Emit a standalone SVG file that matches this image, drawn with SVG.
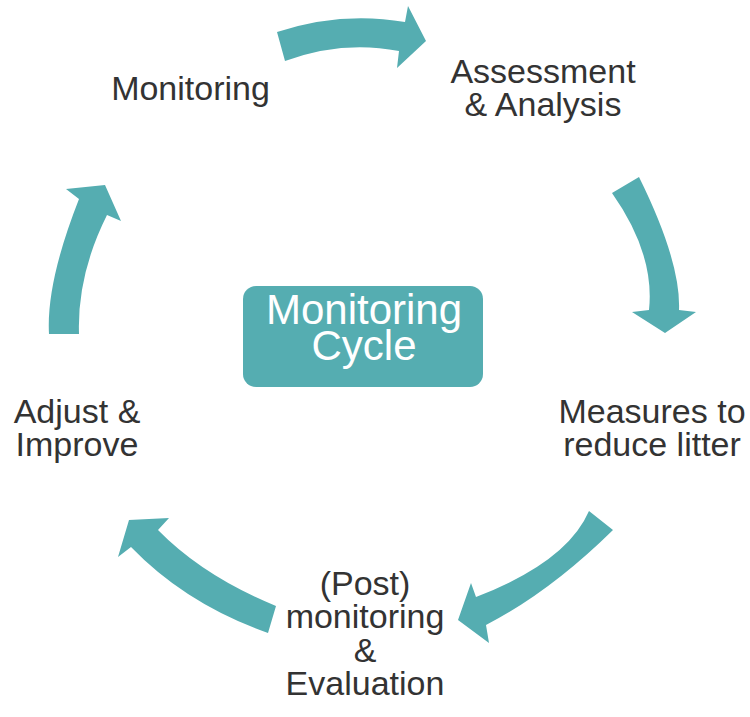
<svg xmlns="http://www.w3.org/2000/svg" width="750" height="717" viewBox="0 0 750 717">
<style>
.arrow{fill:#55adb1;}
.lbl{font-family:"Liberation Sans",Arial,sans-serif;font-size:34px;fill:#333333;text-anchor:middle;}
.ctr{font-family:"Liberation Sans",Arial,sans-serif;font-size:42px;fill:#ffffff;text-anchor:middle;}
</style>
<rect width="750" height="717" fill="#ffffff"/>
<g id="connectors">
<path class="arrow" d="M277,32 Q341,11 405,22 L408,6 L426,41 L397,68 L399,51 Q342,40 285,61 Z"/>
<path class="arrow" d="M612,193 L639,177 Q681,262 679,310 L696,312 L665,333 L632,312 L649,310 Q655,254 612,193 Z"/>
<path class="arrow" d="M589,511 L613,530 Q550,592 486,625 L489,643 L458,620 L471,583 L476,597 Q567,562 589,511 Z"/>
<path class="arrow" d="M276,606 L268,633 Q186,604 131,547 L118,557 L129,520 L169,518 L158,530 Q203,576 276,606 Z"/>
<path class="arrow" d="M49,334 Q46,283 79,199 L66,189 L105,185 L121,221 L107,215 Q77,275 79,334 Z"/>
</g>
<g id="center">
<rect x="243" y="286" width="240" height="101" rx="13" fill="#55adb1"/>
<text class="ctr" x="364" y="324">Monitoring</text>
<text class="ctr" x="364" y="360">Cycle</text>
</g>
<g id="node-monitoring">
<text class="lbl" x="190.5" y="100">Monitoring</text>
</g>
<g id="node-assessment">
<text class="lbl" x="543" y="83">Assessment</text>
<text class="lbl" x="543" y="116">&amp; Analysis</text>
</g>
<g id="node-measures">
<text class="lbl" x="652" y="423">Measures to</text>
<text class="lbl" x="652" y="456">reduce litter</text>
</g>
<g id="node-evaluation">
<text class="lbl" x="365" y="595">(Post)</text>
<text class="lbl" x="365" y="628">monitoring</text>
<text class="lbl" x="365" y="662">&amp;</text>
<text class="lbl" x="365" y="695">Evaluation</text>
</g>
<g id="node-adjust">
<text class="lbl" x="77" y="423">Adjust &amp;</text>
<text class="lbl" x="77" y="456">Improve</text>
</g>
</svg>
